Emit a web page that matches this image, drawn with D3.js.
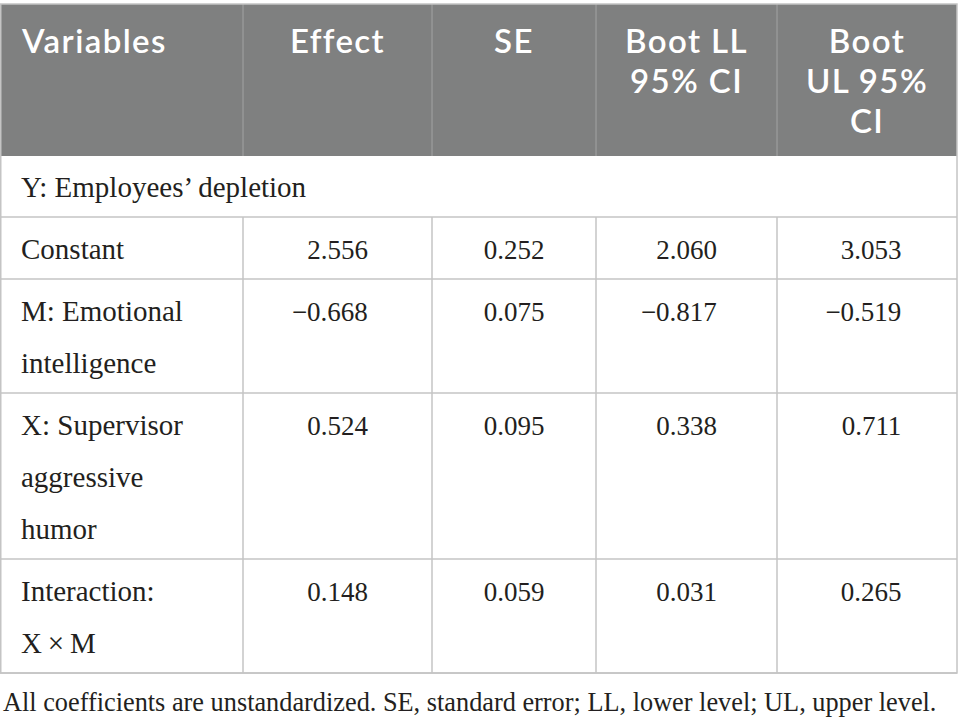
<!DOCTYPE html>
<html>
<head>
<meta charset="utf-8">
<script src="https://cdn.jsdelivr.net/npm/d3@7"></script>
<style>
  body { margin: 0; background: #fff; }
  svg { display: block; }
</style>
</head>
<body>
<div id="table"></div>
<script>
// table content
var headers = [["Variables"], ["Effect"], ["SE"], ["Boot LL", "95% CI"], ["Boot", "UL 95%", "CI"]];
var sectionLabel = "Y: Employees\u2019 depletion";
var variables = [["Constant"], ["M: Emotional", "intelligence"], ["X: Supervisor", "aggressive", "humor"], ["Interaction:", "X\u2009\u00d7\u2009M"]];
var effect = [2.556, -0.668, 0.524, 0.148];
var se = [0.252, 0.075, 0.095, 0.059];
var bootLL = [2.060, -0.817, 0.338, 0.031];
var bootUL = [3.053, -0.519, 0.711, 0.265];
var footnote = "All coefficients are unstandardized. SE, standard error; LL, lower level; UL, upper level.";

var width = 958, height = 724;
var colEdges = [0, 243, 432, 596, 777, 957];
var tableTop = 4;
var headLine = 40, bodyLine = 52;
var fmt = d3.format(".3f");

var svg = d3.select("#table").append("svg")
  .attr("width", width)
  .attr("height", height);

// row layout: header, section row, then one row per variable
var headerH = 32 + headLine * d3.max(headers, h => h.length);
var rows = [{type: "section", lines: 1, h: 61}];
variables.forEach((v, i) => {
  rows.push({type: "data", lines: v.length, h: 10 + bodyLine * v.length,
    cells: [effect[i], se[i], bootLL[i], bootUL[i]], label: v});
});
var y0 = tableTop + headerH;
rows.forEach(r => { r.y = y0; y0 += r.h; });
var tableBottom = y0;

var serif = "'Liberation Serif', 'Times New Roman', serif";
var sans = "Lato, 'Open Sans', sans-serif";
var ink = "#231f20";

// header background
svg.append("rect")
  .attr("x", colEdges[0]).attr("y", tableTop)
  .attr("width", colEdges[5] - colEdges[0]).attr("height", headerH)
  .attr("fill", "#7f8080");

// header dividers
svg.selectAll(".hdiv")
  .data(colEdges.slice(1, -1))
  .enter().append("line")
  .attr("x1", d => d).attr("x2", d => d)
  .attr("y1", tableTop).attr("y2", tableTop + headerH)
  .attr("stroke", "#a3a3a3").attr("stroke-width", 1);

// header text, one text per line
headers.forEach((h, i) => {
  var left = colEdges[i], right = colEdges[i + 1];
  h.forEach((line, k) => {
    svg.append("text")
      .attr("x", i === 0 ? left + 22 : (left + right) / 2)
      .attr("y", tableTop + 49 + k * headLine)
      .attr("font-family", sans)
      .attr("font-weight", 600)
      .attr("font-size", 33)
      .attr("letter-spacing", 1.4)
      .attr("fill", "#fff")
      .attr("text-anchor", i === 0 ? "start" : "middle")
      .text(line);
  });
});

// measure an unsigned value so numbers line up with the minus sign hanging left
var probe = svg.append("text").attr("font-family", serif).attr("font-size", 27).text("0.000");
var numW = probe.node().getComputedTextLength();
probe.remove();

// body rows
rows.forEach(r => {
  if (r.type === "section") {
    svg.append("text")
      .attr("x", 21).attr("y", r.y + 41)
      .attr("font-family", serif).attr("font-size", 29).attr("fill", ink)
      .text(sectionLabel);
    return;
  }
  r.label.forEach((line, k) => {
    svg.append("text")
      .attr("x", 21).attr("y", r.y + 42 + k * bodyLine)
      .attr("font-family", serif).attr("font-size", 29).attr("fill", ink)
      .text(line);
  });
  r.cells.forEach((v, j) => {
    var cx = (colEdges[j + 1] + colEdges[j + 2]) / 2;
    svg.append("text")
      .attr("x", cx + numW / 2 + (j === 3 ? 4 : 0)).attr("y", r.y + 42)
      .attr("text-anchor", "end")
      .attr("font-family", serif).attr("font-size", 27).attr("fill", ink)
      .text(fmt(v));
  });
});

// body grid
var gridColor = "#c4c4c4";
rows.forEach(r => {
  svg.append("line")
    .attr("x1", colEdges[0]).attr("x2", colEdges[5])
    .attr("y1", r.y + r.h).attr("y2", r.y + r.h)
    .attr("stroke", gridColor).attr("stroke-width", 1.5);
});
rows.filter(r => r.type === "data").forEach(r => {
  colEdges.slice(1, -1).forEach(x => {
    svg.append("line")
      .attr("x1", x).attr("x2", x)
      .attr("y1", r.y).attr("y2", r.y + r.h)
      .attr("stroke", gridColor).attr("stroke-width", 1.5);
  });
});
// outer border
svg.append("rect")
  .attr("x", colEdges[0] + 0.75).attr("y", tableTop)
  .attr("width", colEdges[5] - colEdges[0] - 0.75).attr("height", tableBottom - tableTop)
  .attr("fill", "none").attr("stroke", gridColor).attr("stroke-width", 1.5);

// footnote
svg.append("text")
  .attr("x", 3).attr("y", tableBottom + 38)
  .attr("font-family", serif).attr("font-size", 26.3).attr("fill", ink)
  .text(footnote);
</script>
</body>
</html>
